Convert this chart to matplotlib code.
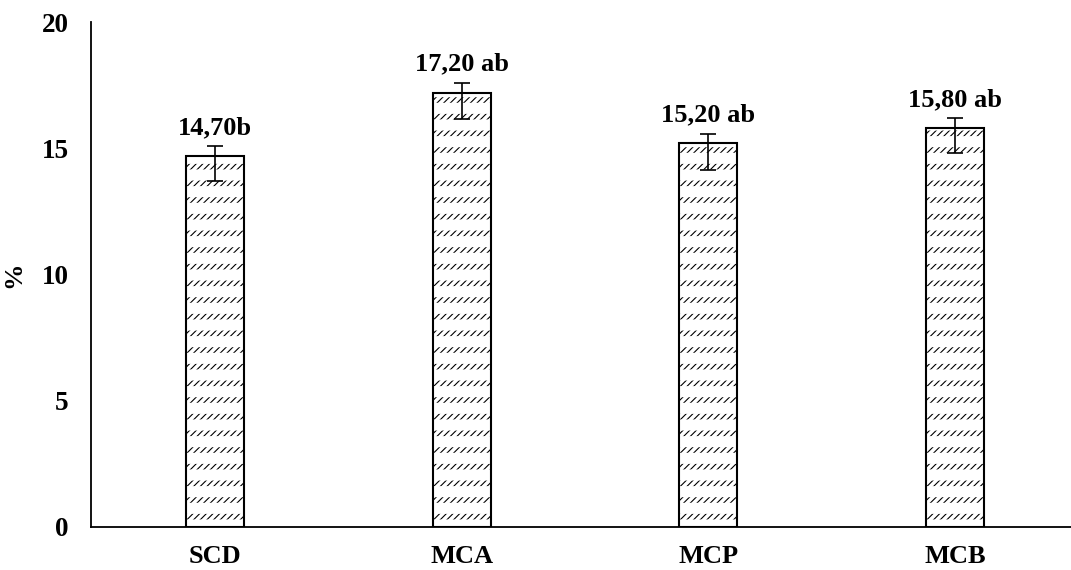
import matplotlib.pyplot as plt
import matplotlib as mpl

# dados
grupos = ['SCD', 'MCA', 'MCP', 'MCB']
valores = [14.7, 17.2, 15.2, 15.8]
rotulos = ['14,70b', '17,20 ab', '15,20 ab', '15,80 ab']
erro_inf = [1.0, 1.05, 1.05, 1.0]
erro_sup = [0.38, 0.4, 0.38, 0.38]

plt.rcParams['font.family'] = ['Liberation Serif', 'DejaVu Serif']
plt.rcParams['font.weight'] = 'bold'

fig = plt.figure(figsize=(10.71, 5.70), dpi=100)
ax = fig.add_axes([91 / 1071, 43 / 570, 1 - 91 / 1071, 505 / 570])

x = range(len(grupos))
largura = 0.235

# hachura diagonal
mpl.rcParams['hatch.linewidth'] = 0.8
ax.bar(x, valores, largura, color='white', edgecolor='black', linewidth=0, hatch='/////', zorder=2)
# faixas brancas para deixar a hachura tracejada
mpl.rcParams['hatch.linewidth'] = 8.0
ax.bar(x, valores, largura, color='none', edgecolor='white', linewidth=0, hatch='-', zorder=3)
# contorno
ax.bar(x, valores, largura, color='none', edgecolor='black', linewidth=1.5, zorder=4)

ax.errorbar(x, valores, yerr=[erro_inf, erro_sup], fmt='none', ecolor='black',
            elinewidth=1.2, capsize=6, capthick=1.2, zorder=5)

for i, v in enumerate(valores):
    ax.annotate(rotulos[i], (i, v + erro_sup[i]), xytext=(0, 5), textcoords='offset points',
                ha='center', va='bottom', fontsize=19, fontweight='bold')

ax.set_xlim(-0.503, 3.47)
ax.set_ylim(0, 20)
ax.set_yticks([0, 5, 10, 15, 20])
ax.set_xticks(list(x))
ax.set_xticklabels(grupos)
ax.tick_params(axis='y', length=0, pad=16, labelsize=19.5)
ax.tick_params(axis='x', length=0, pad=13, labelsize=19)
for t in ax.get_xticklabels() + ax.get_yticklabels():
    t.set_fontweight('bold')
ax.set_ylabel('%', fontsize=19, fontweight='bold', labelpad=12)

ax.spines['top'].set_visible(False)
ax.spines['right'].set_visible(False)
ax.spines['left'].set_linewidth(1.3)
ax.spines['bottom'].set_linewidth(1.3)

plt.savefig('out.png', dpi=100)
